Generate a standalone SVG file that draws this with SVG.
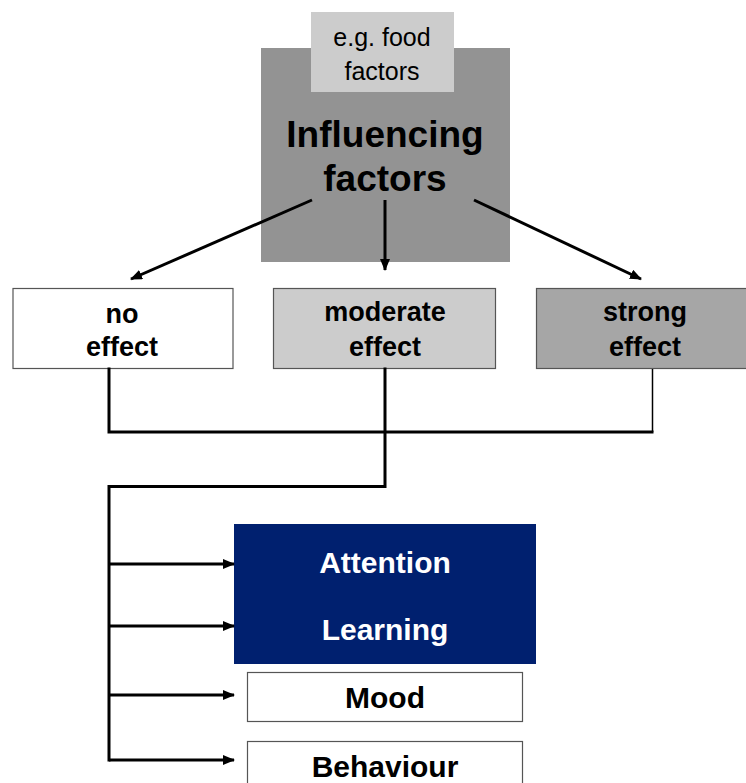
<svg xmlns="http://www.w3.org/2000/svg" width="746" height="783" viewBox="0 0 746 783">
<style>
.b{font-family:"Liberation Sans",Arial,sans-serif;font-weight:bold;text-anchor:middle}
.r{font-family:"Liberation Sans",Arial,sans-serif;text-anchor:middle}
.box{stroke:#555;stroke-width:1.2}
.ln{fill:none;stroke:#000;stroke-width:3;stroke-linejoin:miter;stroke-linecap:square}
</style>
<defs>
<marker id="ah" markerWidth="12" markerHeight="10" refX="11" refY="5" orient="auto" markerUnits="userSpaceOnUse">
<path d="M0,0 L12,5 L0,10 Z" fill="#000"/>
</marker>
</defs>
<rect width="746" height="783" fill="#fff"/>
<g id="influencing">
<rect x="261" y="48" width="249" height="214" fill="#939393"/>
<text class="b" x="385" y="147" font-size="37">Influencing</text>
<text class="b" x="385" y="191" font-size="37">factors</text>
</g>
<g id="food">
<rect x="311" y="12" width="143" height="80" fill="#cccccc"/>
<text class="r" x="382" y="46" font-size="25">e.g. food</text>
<text class="r" x="382" y="80" font-size="25">factors</text>
</g>
<g id="no-effect">
<rect class="box" x="13" y="288.5" width="220" height="80" fill="#fff"/>
<text class="b" x="122" y="323" font-size="27">no</text>
<text class="b" x="122" y="356" font-size="27">effect</text>
</g>
<g id="moderate-effect">
<rect class="box" x="273.5" y="288.5" width="222" height="80" fill="#cccccc"/>
<text class="b" x="385" y="321" font-size="27">moderate</text>
<text class="b" x="385" y="356" font-size="27">effect</text>
</g>
<g id="strong-effect">
<rect class="box" x="536.5" y="288.5" width="215" height="80" fill="#a6a6a6"/>
<text class="b" x="645" y="321" font-size="27">strong</text>
<text class="b" x="645" y="356" font-size="27">effect</text>
</g>
<g id="attention-learning">
<rect x="234" y="524" width="302" height="140" fill="#00206f"/>
<text class="b" x="385" y="573" font-size="30" fill="#fff">Attention</text>
<text class="b" x="385" y="640" font-size="30" fill="#fff">Learning</text>
</g>
<g id="mood">
<rect class="box" x="247.5" y="672.5" width="275" height="49" fill="#fff"/>
<text class="b" x="385" y="708" font-size="30">Mood</text>
</g>
<g id="behaviour">
<rect class="box" x="247.5" y="741.5" width="275" height="49" fill="#fff"/>
<text class="b" x="385" y="777" font-size="30">Behaviour</text>
</g>
<g id="connectors">
<line class="ln" x1="312" y1="200" x2="131" y2="279" marker-end="url(#ah)" style="stroke-linecap:butt"/>
<line class="ln" x1="385" y1="200" x2="385" y2="270" marker-end="url(#ah)" style="stroke-linecap:butt"/>
<line class="ln" x1="474" y1="200" x2="641" y2="279" marker-end="url(#ah)" style="stroke-linecap:butt"/>
<polyline class="ln" points="109,369 109,432 652,432"/>
<line x1="652.5" y1="369" x2="652.5" y2="432" stroke="#000" stroke-width="1.5"/>
<polyline class="ln" points="385,369 385,486.5 109,486.5 109,760"/>
<line class="ln" x1="109" y1="564" x2="234" y2="564" marker-end="url(#ah)" style="stroke-linecap:butt"/>
<line class="ln" x1="109" y1="626" x2="234" y2="626" marker-end="url(#ah)" style="stroke-linecap:butt"/>
<line class="ln" x1="109" y1="695" x2="234" y2="695" marker-end="url(#ah)" style="stroke-linecap:butt"/>
<line class="ln" x1="109" y1="760" x2="234" y2="760" marker-end="url(#ah)" style="stroke-linecap:butt"/>
</g>
</svg>
